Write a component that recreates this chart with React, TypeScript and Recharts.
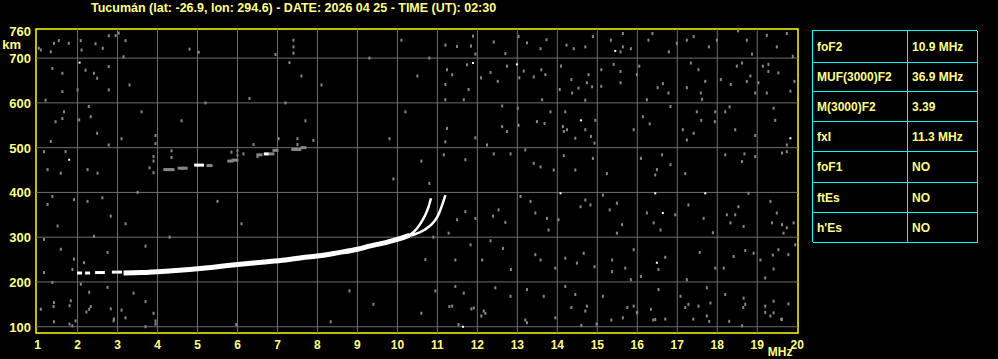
import React from 'react';
import { ComposedChart, XAxis, YAxis, Line, Scatter, ReferenceLine, ReferenceArea } from 'recharts';

const TITLE = 'Tucumán (lat: -26.9, lon: 294.6) - DATE: 2026 04 25 - TIME (UT): 02:30';
const TXT = '#ffff88';
const GRID = '#6e6e6e';
const NOISE = '#878787';

const xTicks = [1, 2, 3, 4, 5, 6, 7, 8, 9, 10, 11, 12, 13, 14, 15, 16, 17, 18, 19, 20];
const yTicks = [100, 200, 300, 400, 500, 600, 700, 760];
const xGrid = [2, 3, 4, 5, 6, 7, 8, 9, 10, 11, 12, 13, 14, 15, 16, 17, 18, 19];
const yGrid = [100, 200, 300, 400, 500, 600, 700];

const tableLabels = ['foF2', 'MUF(3000)F2', 'M(3000)F2', 'fxI', 'foF1', 'ftEs', "h'Es"];
const tableValues = ['10.9 MHz', '36.9 MHz', '3.39', '11.3 MHz', 'NO', 'NO', 'NO'];

type P = [number, number];

const mainTrace: P[] = [
  [3.15, 220], [3.6, 221], [4.2, 224], [4.8, 228], [5.4, 233], [6.0, 239], [6.6, 244], [7.2, 249],
  [7.6, 254], [8.1, 259], [8.5, 265], [9.0, 273], [9.3, 280], [9.7, 288], [10.0, 295], [10.3, 304],
];
const oTrace: P[] = [[10.25, 302], [10.4, 311], [10.58, 331], [10.7, 350], [10.78, 368], [10.84, 387]];
const xTrace: P[] = [[10.3, 303], [10.42, 306], [10.67, 316], [10.92, 335], [11.04, 353], [11.12, 372], [11.2, 394]];
const traceStart: P[] = [[2.05, 220], [2.25, 220], [2.5, 221], [2.62, 221], [2.92, 222], [3.05, 222]];

const echoGrey: P[] = [
  [4.22, 451], [4.35, 451], [4.58, 454], [4.68, 454], [5.3, 460], [5.82, 470], [5.92, 472],
  [6.55, 484], [6.85, 486], [6.95, 494], [7.42, 496], [7.52, 496], [7.65, 500],
];
const echoWhite: P[] = [[4.98, 461], [5.1, 461], [6.72, 486]];

const noiseLeft: P[] = [
  [1.08, 718], [1.41, 733], [1.33, 714], [1.78, 733], [1.37, 677], [1.62, 666], [2.2, 673], [2.41, 666],
  [2.78, 681], [2.49, 655], [1.62, 625], [2.0, 629], [1.2, 606], [2.78, 629], [2.28, 592], [1.66, 580],
  [1.45, 558], [1.62, 565], [2.04, 562], [2.33, 569], [2.49, 532], [1.33, 514], [2.78, 506], [1.16, 491],
  [1.7, 491], [1.25, 451], [1.58, 443], [2.25, 451], [2.5, 443], [1.37, 391], [1.91, 384], [2.25, 380],
  [2.62, 388], [1.25, 373], [2.83, 347], [1.5, 325], [2.41, 302], [1.16, 295], [1.58, 273], [2.75, 266],
  [1.91, 251], [2.16, 243], [1.87, 228], [1.16, 221], [1.37, 199], [2.08, 195], [2.29, 177], [2.75, 188],
  [1.41, 154], [1.83, 158], [2.29, 139], [1.08, 139], [2.91, 117], [1.41, 111], [1.87, 102], [3.03, 756],
  [2.95, 750], [3.2, 739], [3.15, 703], [3.3, 640], [3.6, 580], [3.1, 520], [3.8, 455], [3.5, 400],
  [3.2, 330], [3.7, 280], [3.4, 175], [3.9, 130], [3.2, 120], [3.7, 100], [1.4, 145], [1.8, 147],
  [2.22, 133], [2.33, 145], [2.83, 140], [3.1, 137], [2.9, 113], [1.95, 113], [3.95, 113], [3.95, 106],
  [3.7, 156], [1.8, 106], [1.03, 722], [1.53, 739], [2.08, 739], [2.1, 718], [2.45, 732], [2.63, 722],
  [2.78, 750], [3.95, 527], [3.95, 509], [3.9, 480], [3.9, 470], [3.9, 444], [4.35, 493], [4.35, 478],
];
const noiseMid: P[] = [
  [5.03, 713], [6.95, 708], [7.4, 740], [7.4, 725], [7.4, 711], [7.3, 690], [7.6, 660], [7.2, 600],
  [7.7, 560], [7.5, 520], [8.1, 640], [6.3, 610], [5.2, 600], [4.6, 560], [6.5, 480], [9.3, 700],
  [10.5, 660], [10.2, 580], [9.8, 520], [10.6, 470], [10.8, 420], [9.4, 150], [6.1, 330], [8.8, 180],
  [8.33, 111], [10.1, 740], [10.8, 700], [5.5, 380], [4.8, 720], [5.97, 105], [10.9, 300], [10.7, 250],
  [10.95, 180], [10.6, 130], [4.3, 300], [9.9, 430], [6.0, 493], [6.0, 483], [6.0, 472], [6.4, 507],
  [7.03, 520], [7.5, 507], [7.9, 516], [6.15, 486], [5.85, 490],
];
const noiseRightHigh: P[] = [
  [11.89, 749], [11.2, 729], [11.49, 726], [11.84, 727], [11.95, 709], [12.41, 736], [12.7, 710], [13.03, 748],
  [13.24, 734], [13.58, 721], [13.73, 741], [14.23, 729], [14.41, 721], [14.7, 725], [14.89, 748], [15.34, 740],
  [15.64, 755], [15.64, 725], [15.58, 714], [15.84, 721], [16.28, 740], [16.38, 755], [16.79, 714], [16.99, 733],
  [17.24, 740], [17.41, 748], [17.79, 725], [17.99, 740], [18.52, 761], [18.74, 740], [18.87, 709], [19.24, 751],
  [19.49, 725], [19.74, 755], [19.89, 704],
  [11.74, 685], [11.24, 674], [11.37, 663], [11.2, 641], [11.78, 630], [11.2, 607], [11.66, 607], [12.09, 656],
  [12.33, 668], [12.51, 648], [12.74, 682], [13.05, 656], [13.16, 671], [13.41, 658], [13.6, 674], [13.7, 663],
  [13.62, 607], [14.09, 682], [14.06, 630], [14.35, 652], [14.37, 622], [14.53, 633], [14.78, 663], [14.74, 645],
  [14.87, 636], [14.7, 606], [15.1, 674], [15.1, 637], [15.41, 686], [15.58, 670], [15.58, 645], [15.99, 663],
  [16.05, 682], [16.24, 607], [16.64, 643], [16.51, 634], [16.78, 622], [17.24, 634], [17.34, 689], [17.53, 674],
  [17.7, 648], [17.59, 622], [17.62, 608], [18.09, 652], [18.34, 641], [18.49, 682], [18.62, 689], [18.83, 660],
  [18.74, 648], [19.03, 645], [18.95, 622], [19.14, 682], [19.28, 686], [19.28, 670], [19.53, 667], [19.24, 622],
  [19.83, 626], [19.93, 648],
  [11.24, 543], [11.2, 513], [11.95, 522], [12.24, 506], [12.62, 593], [12.62, 547], [12.74, 536], [13.01, 588],
  [13.03, 550], [13.49, 558], [13.83, 580], [13.68, 554], [14.2, 580], [14.14, 547], [14.16, 536], [14.24, 540],
  [14.45, 521], [14.7, 540], [14.84, 525], [14.95, 561], [14.93, 510], [15.91, 540], [16.14, 569], [16.31, 553],
  [16.83, 592], [17.14, 540], [17.41, 532], [17.49, 580], [17.6, 561], [17.24, 517], [17.95, 580], [17.94, 558],
  [18.2, 580], [18.31, 591], [18.45, 540], [18.95, 527], [19.45, 561], [19.41, 588], [19.74, 506],
  [11.16, 484], [11.7, 473], [12.41, 486], [12.83, 486], [13.2, 495], [13.41, 465], [13.58, 457], [13.91, 450],
  [14.16, 482], [14.45, 450], [14.89, 476], [15.24, 442], [16.09, 476], [16.49, 451], [16.62, 484], [16.83, 462],
  [16.45, 439], [17.2, 442], [18.2, 484], [18.68, 486], [18.62, 469], [18.95, 480], [19.62, 488], [19.74, 491],
];
const noiseRightLow: P[] = [
  [11.49, 339], [11.7, 357], [11.95, 342], [12.39, 347], [12.53, 361], [12.7, 333], [11.28, 309], [13.08, 391],
  [13.33, 380], [13.45, 354], [13.74, 342], [13.78, 316], [14.03, 339], [14.58, 368], [14.7, 383], [14.83, 372],
  [15.14, 394], [15.31, 361], [15.49, 376], [15.62, 328], [15.49, 309], [16.24, 354], [16.41, 332], [16.58, 316],
  [16.95, 350], [17.28, 372], [17.66, 342], [17.89, 310], [18.24, 350], [18.45, 350], [18.53, 368], [18.33, 332],
  [18.66, 324], [18.78, 398], [19.33, 380], [19.49, 354], [19.37, 332], [19.62, 328], [19.74, 321], [19.66, 309],
  [19.91, 332],
  [11.45, 249], [11.83, 283], [12.12, 249], [12.33, 292], [12.64, 275], [12.84, 228], [13.45, 261], [13.58, 249],
  [13.95, 231], [14.2, 253], [14.49, 242], [14.66, 264], [14.93, 234], [15.37, 249], [15.37, 223], [15.7, 231],
  [15.91, 272], [15.84, 205], [16.09, 212], [16.7, 255], [16.53, 228], [17.56, 266], [17.24, 205], [17.95, 231],
  [18.16, 231], [18.41, 257], [18.7, 270], [18.91, 264], [19.08, 249], [19.2, 209], [19.41, 229], [19.53, 272],
  [19.78, 261], [19.95, 283], [19.39, 260],
  [11.45, 190], [11.66, 175], [11.37, 146], [12.16, 135], [11.91, 142], [12.45, 187], [12.83, 168], [13.24, 183],
  [13.66, 168], [13.24, 109], [14.2, 190], [14.45, 172], [14.74, 146], [14.7, 135], [15.14, 168], [15.91, 146],
  [15.64, 120], [15.99, 131], [16.34, 139], [16.53, 183], [16.45, 116], [17.08, 168], [17.28, 150], [17.53, 146],
  [17.74, 187], [17.83, 153], [17.74, 124], [18.2, 172], [18.66, 164], [18.7, 150], [18.62, 102], [19.2, 146],
  [19.41, 157], [19.41, 131], [19.78, 151], [19.62, 116], [19.33, 124],
  [11.53, 105], [11.3, 145], [11.85, 140], [12.2, 130], [12.1, 124], [13.2, 115], [13.95, 120], [14.35, 143],
  [14.6, 103], [14.98, 106], [15.35, 115], [15.75, 143], [16.0, 132], [16.4, 115], [16.7, 117], [17.2, 143],
  [17.4, 117], [17.8, 112], [18.3, 112], [18.65, 143], [19.2, 132], [19.6, 117],
];
const whiteSpecks: P[] = [
  [11.89, 689], [12.99, 686], [15.45, 716], [14.59, 561], [19.83, 521], [16.64, 354], [16.49, 243],
  [1.79, 473], [2.05, 690], [16.45, 398], [17.7, 398], [14.08, 398], [11.64, 100],
];

const toPts = (arr: P[]) => arr.map(([f, h]) => ({ f, h }));

const speck = (color: string, w: number, hgt: number) => (props: any) => {
  const { cx, cy } = props;
  if (cx == null || cy == null) return <g />;
  return <rect x={cx - w / 2} y={cy - hgt / 2} width={w} height={hgt} fill={color} />;
};

const XTick = (props: any) => {
  const { x, y, payload } = props;
  const v = payload.value;
  return (
    <g>
      <text x={x} y={y + 8} textAnchor="middle" fill={TXT} fontSize={12} fontWeight="bold"
        fontFamily='"Liberation Sans", Arial, sans-serif'>{v}</text>
      {v === 20 && (
        <text x={x - 17} y={y + 15} textAnchor="middle" fill={TXT} fontSize={12} fontWeight="bold"
          fontFamily='"Liberation Sans", Arial, sans-serif'>MHz</text>
      )}
    </g>
  );
};

const YTick = (props: any) => {
  const { x, y, payload } = props;
  const v = payload.value;
  return (
    <g>
      <text x={x + 3} y={y + 5} textAnchor="end" fill={TXT} fontSize={13} fontWeight="bold"
        fontFamily='"Liberation Sans", Arial, sans-serif'>{v}</text>
      {v === 760 && (
        <text x={x - 7} y={y + 18} textAnchor="end" fill={TXT} fontSize={13} fontWeight="bold"
          fontFamily='"Liberation Sans", Arial, sans-serif'>km</text>
      )}
    </g>
  );
};

const rowHeights = [32, 29, 30, 30, 31, 30, 30];

export default function App() {
  const fontFamily = '"Liberation Sans", Arial, sans-serif';
  return (
    <div style={{ position: 'absolute', left: 0, top: 0, width: 998, height: 359, background: '#000', overflow: 'hidden', fontFamily }}>
      <div style={{ position: 'absolute', left: 0, top: 0 }}>
        <ComposedChart width={998} height={359} margin={{ top: 29, right: 200, bottom: 0, left: 0 }}>
          <XAxis dataKey="f" type="number" domain={[0.96, 20.02]} ticks={xTicks} interval={0}
            allowDataOverflow axisLine={false} tickLine={false} tickSize={6} tickMargin={2} height={26} tick={<XTick />} />
          <YAxis dataKey="h" type="number" domain={[86, 765]} ticks={yTicks} interval={0}
            allowDataOverflow axisLine={false} tickLine={false} tickSize={6} tickMargin={2} width={36} tick={<YTick />} />
          {xGrid.map((v) => (
            <ReferenceLine key={'gx' + v} x={v} stroke={GRID} strokeWidth={1} />
          ))}
          {yGrid.map((v) => (
            <ReferenceLine key={'gy' + v} y={v} stroke={GRID} strokeWidth={1} />
          ))}
          <Scatter data={toPts(noiseLeft)} dataKey="h" shape={speck(NOISE, 2, 3)} isAnimationActive={false} />
          <Scatter data={toPts(noiseMid)} dataKey="h" shape={speck(NOISE, 2, 3)} isAnimationActive={false} />
          <Scatter data={toPts(noiseRightHigh)} dataKey="h" shape={speck(NOISE, 2, 3)} isAnimationActive={false} />
          <Scatter data={toPts(noiseRightLow)} dataKey="h" shape={speck(NOISE, 2, 3)} isAnimationActive={false} />
          <Scatter data={toPts(echoGrey)} dataKey="h" shape={speck(NOISE, 6, 3)} isAnimationActive={false} />
          <Scatter data={toPts(echoWhite)} dataKey="h" shape={speck('#ffffff', 5, 3)} isAnimationActive={false} />
          <Scatter data={toPts(whiteSpecks)} dataKey="h" shape={speck('#ffffff', 2, 2)} isAnimationActive={false} />
          <Scatter data={toPts(traceStart)} dataKey="h" shape={speck('#ffffff', 5, 3)} isAnimationActive={false} />
          <Line data={toPts(mainTrace)} dataKey="h" type="monotone" stroke="#ffffff" strokeWidth={5} dot={false} activeDot={false} isAnimationActive={false} />
          <Line data={toPts(oTrace)} dataKey="h" type="monotone" stroke="#ffffff" strokeWidth={2.5} dot={false} activeDot={false} isAnimationActive={false} />
          <Line data={toPts(xTrace)} dataKey="h" type="monotone" stroke="#ffffff" strokeWidth={2.5} dot={false} activeDot={false} isAnimationActive={false} />
          <ReferenceArea x1={0.96} x2={20.02} y1={86} y2={765} fill="none" fillOpacity={0} stroke="#ffff00" strokeWidth={1.5} ifOverflow="visible" />
        </ComposedChart>
      </div>
      <svg width={998} height={20} style={{ position: 'absolute', left: 0, top: 0 }}>
        <text x={91} y={11.5} fill={TXT} fontSize={12.5} fontWeight="bold" fontFamily={fontFamily}>{TITLE}</text>
      </svg>
      <div style={{
        position: 'absolute', left: 812, top: 30, width: 165, height: 212, boxSizing: 'border-box',
        borderTop: '1.5px solid #00ffff', borderLeft: '1.5px solid #00ffff',
        display: 'grid', gridTemplateColumns: '95px 70px', gridTemplateRows: rowHeights.map((h) => h + 'px').join(' '),
      }}>
        {tableLabels.map((lab, i) => (
          <React.Fragment key={lab}>
            <div style={{ borderRight: '1.5px solid #00ffff', borderBottom: '1.5px solid #00ffff', color: TXT, fontSize: 12, fontWeight: 'bold', display: 'flex', alignItems: 'center', paddingLeft: 4, boxSizing: 'border-box' }}>{lab}</div>
            <div style={{ borderRight: '1.5px solid #00ffff', borderBottom: '1.5px solid #00ffff', color: TXT, fontSize: 12, fontWeight: 'bold', display: 'flex', alignItems: 'center', paddingLeft: 4, boxSizing: 'border-box' }}>{tableValues[i]}</div>
          </React.Fragment>
        ))}
      </div>
    </div>
  );
}
